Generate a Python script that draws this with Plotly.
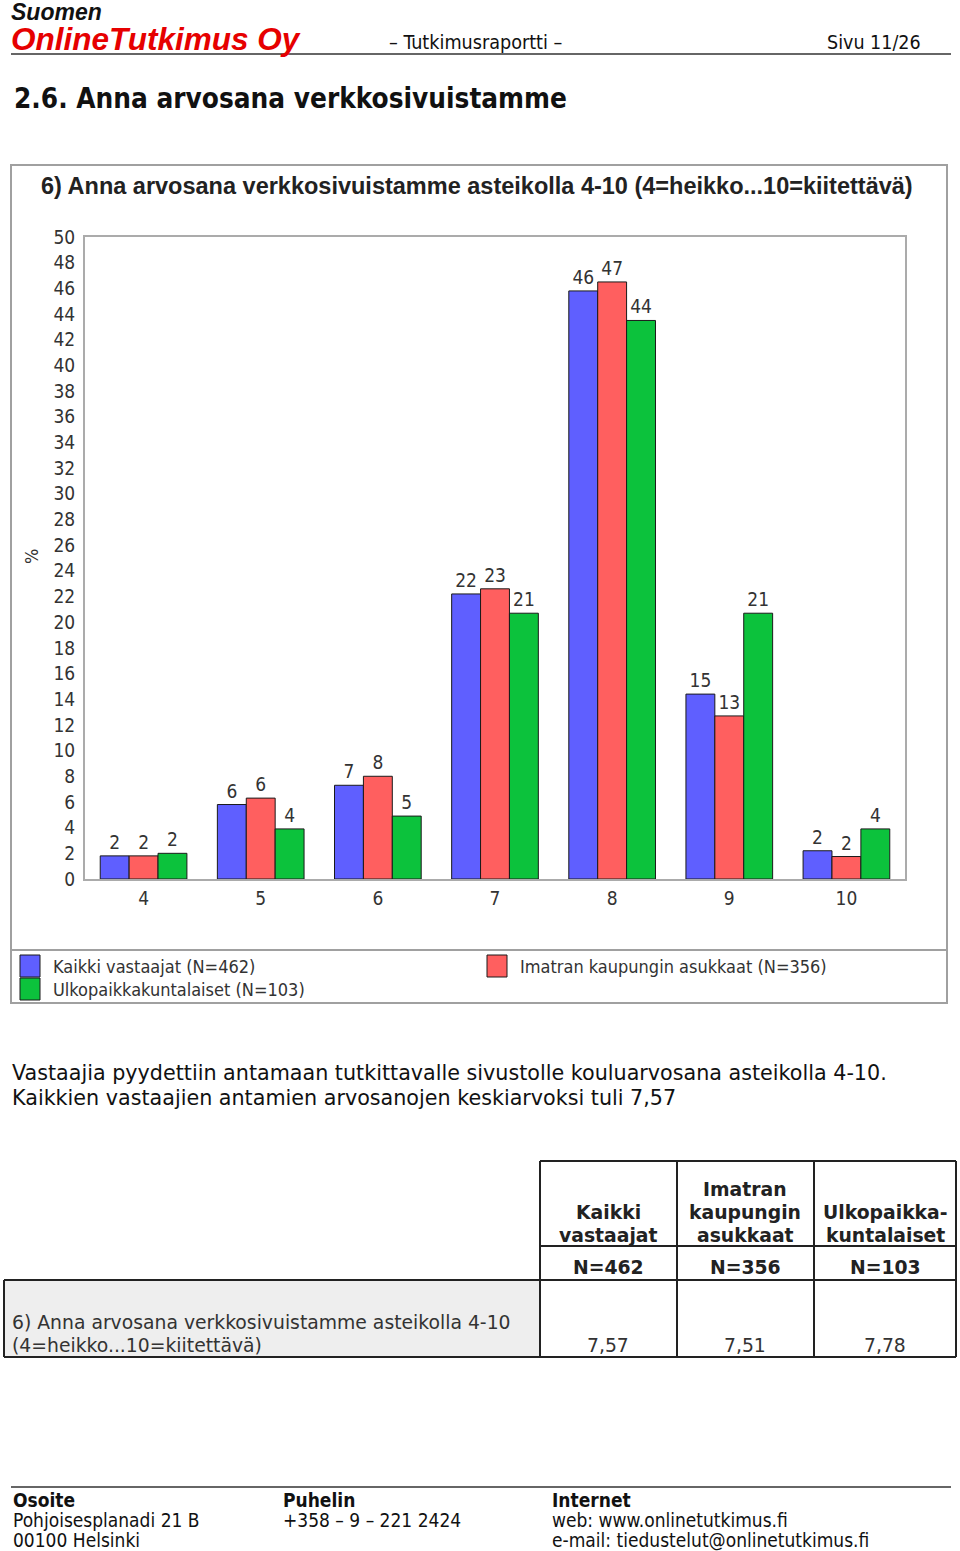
import plotly.graph_objects as go

# ---------------- data ----------------
categories = ["4", "5", "6", "7", "8", "9", "10"]
series_names = ["Kaikki vastaajat (N=462)", "Imatran kaupungin asukkaat (N=356)", "Ulkopaikkakuntalaiset (N=103)"]
kaikki = [1.8, 5.8, 7.3, 22.2, 45.8, 14.4, 2.2]
imatra = [1.8, 6.3, 8.0, 22.6, 46.5, 12.7, 1.75]
ulko = [2.0, 3.9, 4.9, 20.7, 43.5, 20.7, 3.9]
kaikki_labels = ["2", "6", "7", "22", "46", "15", "2"]
imatra_labels = ["2", "6", "8", "23", "47", "13", "2"]
ulko_labels = ["2", "4", "5", "21", "44", "21", "4"]
y_ticks = list(range(0, 51, 2))

table_headers = ["Kaikki<br>vastaajat", "Imatran<br>kaupungin<br>asukkaat", "Ulkopaikka-<br>kuntalaiset"]
table_n = ["N=462", "N=356", "N=103"]
table_means = ["7,57", "7,51", "7,78"]
table_row_label = ["6) Anna arvosana verkkosivuistamme asteikolla 4-10", "(4=heikko...10=kiitettävä)"]

# ---------------- page geometry helpers ----------------
W, H = 960, 1551
def X(p):
    return p / W
def Y(p):
    return 1 - p / H

BLUE = "#5F5FFF"
RED = "#FF5F5F"
GREEN = "#0CC23C"
colors = [BLUE, RED, GREEN]
NARROW = "Liberation Sans Narrow, Arial Narrow, DejaVu Sans Condensed, sans-serif"
ARIAL = "Liberation Sans, Arial, sans-serif"
COND = "DejaVu Sans Condensed, Tahoma, sans-serif"
VERD = "DejaVu Sans, Verdana, sans-serif"

fig = go.Figure()
for name, vals, labs, col in zip(series_names, [kaikki, imatra, ulko],
                                 [kaikki_labels, imatra_labels, ulko_labels], colors):
    fig.add_trace(go.Bar(
        x=categories, y=vals, name=name, text=labs,
        textposition="outside", cliponaxis=False, constraintext="none",
        textfont=dict(family=NARROW, size=19, color="#333333"),
        marker=dict(color=col, line=dict(color="#1a1a1a", width=1)),
        showlegend=False,
    ))

fig.update_layout(
    width=W, height=H, autosize=False,
    margin=dict(l=0, r=0, t=0, b=0, pad=0, autoexpand=False),
    showlegend=False,
    paper_bgcolor="white", plot_bgcolor="white",
    barmode="group", bargap=0.26, bargroupgap=0,
    xaxis=dict(domain=[X(85), X(905)], type="category", automargin=False,
               showline=True, mirror=True, linecolor="#ABABAB", linewidth=2,
               ticks="outside", ticklen=1, tickcolor="rgba(0,0,0,0)",
               tickfont=dict(family=NARROW, size=19, color="#333333"),
               showgrid=False, zeroline=False, fixedrange=True),
    yaxis=dict(domain=[Y(879), Y(237)], range=[0, 50], automargin=False,
               tickvals=y_ticks, ticktext=[str(v) for v in y_ticks],
               showline=True, mirror=True, linecolor="#ABABAB", linewidth=2,
               ticks="outside", ticklen=4, tickcolor="rgba(0,0,0,0)",
               tickfont=dict(family=NARROW, size=19, color="#333333"),
               showgrid=False, zeroline=False, fixedrange=True),
    hovermode=False,
)

shapes = []
def line(x0, y0, x1, y1, color="#222222", width=2):
    shapes.append(dict(type="line", xref="paper", yref="paper",
                       x0=X(x0), y0=Y(y0), x1=X(x1), y1=Y(y1),
                       line=dict(color=color, width=width)))
def rect(x0, y0, x1, y1, fill=None, color="#222222", width=1):
    shapes.append(dict(type="rect", xref="paper", yref="paper",
                       x0=X(x0), y0=Y(y0), x1=X(x1), y1=Y(y1),
                       fillcolor=fill if fill else "rgba(0,0,0,0)",
                       line=dict(color=color, width=width), layer="below" if fill else "above"))

annotations = []
def note(text, x, y, size, family, color="#111111", xanchor="left", yanchor="middle", angle=0, pad=1, align="left"):
    annotations.append(dict(text=text, x=X(x), y=Y(y), xref="paper", yref="paper",
                            xanchor=xanchor, yanchor=yanchor, showarrow=False, textangle=angle,
                            borderpad=pad, align=align,
                            font=dict(size=size, family=family, color=color)))

# header (company name block as one two-line text)
note("<b><i>Suomen</i></b><br><b><i><span style='font-size:31.5px;color:#E60000'>OnlineTutkimus Oy</span></i></b>",
     10, -2, 23, ARIAL, "#111111", yanchor="top", pad=0)
note("– Tutkimusraportti –", 387, 42, 19.6, COND, "#111111")
note("Sivu 11/26", 825, 42, 19.5, COND, "#111111")
line(11, 54, 951, 54, "#333333", 1.5)
note("<b>2.6. Anna arvosana verkkosivuistamme</b>", 12, 98, 27.7, COND, "#111111")

# chart frame
rect(11, 165, 947, 1003, None, "#A0A0A0", 2)
line(11, 950, 947, 950, "#A0A0A0", 2)
note("<b>6) Anna arvosana verkkosivuistamme asteikolla 4-10 (4=heikko...10=kiitettävä)</b>",
     39, 186, 23.5, ARIAL, "#222222")
note("%", 31, 557, 18, NARROW, "#333333", xanchor="center", angle=-90)

# legend
legend_pos = [(20, 966), (487, 966), (20, 989)]
for (lx, ly), name, col in zip(legend_pos, series_names, colors):
    rect(lx, ly - 11, lx + 20, ly + 11, col, "#1a1a1a", 1)
    shapes[-1]["layer"] = "above"
    note(name, lx + 31, ly, 18, NARROW, "#333333")

# paragraph
note("Vastaajia pyydettiin antamaan tutkittavalle sivustolle kouluarvosana asteikolla 4-10.",
     10, 1073, 20.7, VERD, "#111111")
note("Kaikkien vastaajien antamien arvosanojen keskiarvoksi tuli 7,57",
     10, 1098, 20.7, VERD, "#111111")

# table
rect(4, 1280, 540, 1357, "#EEEEEE", "rgba(0,0,0,0)", 0)
line(540, 1161, 956, 1161)
line(540, 1246, 956, 1246)
line(4, 1280, 956, 1280)
line(4, 1357, 956, 1357)
for xv in (540, 677, 814, 956):
    line(xv, 1161, xv, 1357)
line(4, 1280, 4, 1357)

TS = 18.8
col_centers = [608, 745, 885]
header_lines = [h.split("<br>") for h in table_headers]
for cx, hl, n, m in zip(col_centers, header_lines, table_n, table_means):
    start = 1235 - 23 * (len(hl) - 1)
    for i, t in enumerate(hl):
        note("<b>" + t + "</b>", cx, start + 23 * i, TS, VERD, "#222222", xanchor="center")
    note("<b>" + n + "</b>", cx, 1267, TS, VERD, "#222222", xanchor="center")
    note(m, cx, 1345, TS, VERD, "#333333", xanchor="center")
note(table_row_label[0], 10, 1322, TS, VERD, "#333333")
note(table_row_label[1], 10, 1345, TS, VERD, "#333333")

# footer
line(11, 1487, 951, 1487, "#333333", 1.5)
footer_cols = [
    (11, ["<b>Osoite</b>", "Pohjoisesplanadi 21 B", "00100 Helsinki"]),
    (281, ["<b>Puhelin</b>", "+358 – 9 – 221 2424"]),
    (550, ["<b>Internet</b>", "web: www.onlinetutkimus.fi", "e-mail: tiedustelut@onlinetutkimus.fi"]),
]
for fx, lines_ in footer_cols:
    for i, t in enumerate(lines_):
        note(t, fx, 1500 + 20 * i, 19, COND, "#111111")

fig.update_layout(shapes=shapes, annotations=annotations)
fig.write_html("out.html", config={"displayModeBar": False, "staticPlot": True},
               post_script="document.body.style.margin='0';document.body.style.overflow='hidden';")
